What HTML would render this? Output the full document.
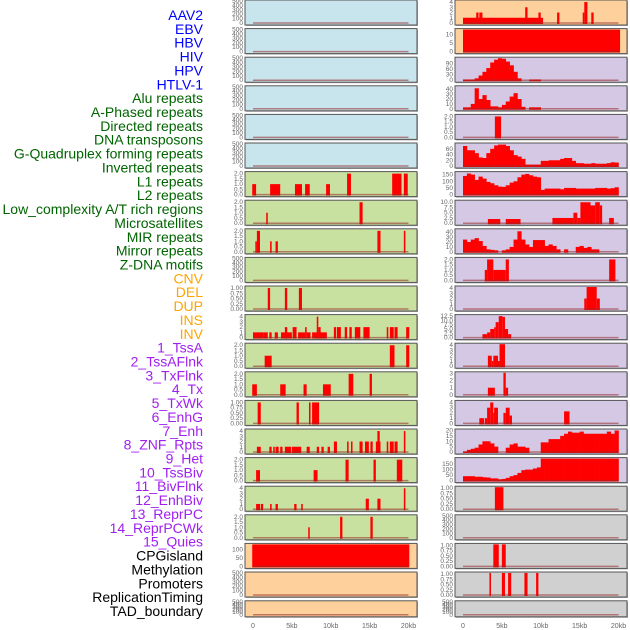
<!DOCTYPE html>
<html><head><meta charset="utf-8">
<style>
html,body{margin:0;padding:0;background:#fff;}
svg{display:block;font-family:"Liberation Sans",sans-serif;}
</style></head>
<body>
<svg id="chart" width="630" height="630" viewBox="0 0 630 630"></svg>
<script>
const labels=["AAV2","EBV","HBV","HIV","HPV","HTLV-1","Alu repeats","A-Phased repeats","Directed repeats","DNA transposons","G-Quadruplex forming repeats","Inverted repeats","L1 repeats","L2 repeats","Low_complexity A/T rich regions","Microsatellites","MIR repeats","Mirror repeats","Z-DNA motifs","CNV","DEL","DUP","INS","INV","1_TssA","2_TssAFlnk","3_TxFlnk","4_Tx","5_TxWk","6_EnhG","7_Enh","8_ZNF_Rpts","9_Het","10_TssBiv","11_BivFlnk","12_EnhBiv","13_ReprPC","14_ReprPCWk","15_Quies","CPGisland","Methylation","Promoters","ReplicationTiming","TAD_boundary"];
const labelColors=["#0000ff","#0000ff","#0000ff","#0000ff","#0000ff","#0000ff","#006400","#006400","#006400","#006400","#006400","#006400","#006400","#006400","#006400","#006400","#006400","#006400","#006400","#ffa500","#ffa500","#ffa500","#ffa500","#ffa500","#a020f0","#a020f0","#a020f0","#a020f0","#a020f0","#a020f0","#a020f0","#a020f0","#a020f0","#a020f0","#a020f0","#a020f0","#a020f0","#a020f0","#a020f0","#000","#000","#000","#000","#000"];
const T500=["0","100","200","300","400","500"],T2=["0.0","0.5","1.0","1.5","2.0"],T1=["0.00","0.25","0.50","0.75","1.00"],T4=["0","1","2","3","4"];
const leftBg=["#c8e4ec","#c8e4ec","#c8e4ec","#c8e4ec","#c8e4ec","#c8e4ec","#c8e0a0","#c8e0a0","#c8e0a0","#c8e0a0","#c8e0a0","#c8e0a0","#c8e0a0","#c8e0a0","#c8e0a0","#c8e0a0","#c8e0a0","#c8e0a0","#c8e0a0","#fdd09c","#fdd09c","#fdd09c"];
const rightBg=["#fdd09c","#fdd09c","#d4c8e4","#d4c8e4","#d4c8e4","#d4c8e4","#d4c8e4","#d4c8e4","#d4c8e4","#d4c8e4","#d4c8e4","#d4c8e4","#d4c8e4","#d4c8e4","#d4c8e4","#d4c8e4","#d4c8e4","#d0d0d0","#d0d0d0","#d0d0d0","#d0d0d0","#d0d0d0"];
const leftTicks=[T500,T500,T500,T500,T500,T500,T2,T2,T2,T500,T1,T4,T2,T2,T1,T4,T2,T4,T2,["0","50","100"],T500,T500];
const leftTickVals=[[0,100,200,300,400,500],[0,100,200,300,400,500],[0,100,200,300,400,500],[0,100,200,300,400,500],[0,100,200,300,400,500],[0,100,200,300,400,500],[0,.5,1,1.5,2],[0,.5,1,1.5,2],[0,.5,1,1.5,2],[0,100,200,300,400,500],[0,.25,.5,.75,1],[0,1,2,3,4],[0,.5,1,1.5,2],[0,.5,1,1.5,2],[0,.25,.5,.75,1],[0,1,2,3,4],[0,.5,1,1.5,2],[0,1,2,3,4],[0,.5,1,1.5,2],[0,50,100],[0,100,200,300,400,500],[0,100,200,300,400,500]];
const leftYmax=[500,500,500,500,500,500,2.1,2.1,2.1,500,1.05,4.2,2.1,2.1,1.05,4.2,2.1,4.2,2.1,130,500,500];
const rightTicks=[T4,["0","5","10"],["0","30","60","90"],["0","10","20","30","40"],T2,["0","20","40","60"],["0","50","100","150"],["0.0","2.5","5.0","7.5","10.0"],["0","10","20","30","40"],T2,T4,["0.0","2.5","5.0","7.5","10.0","12.5"],T4,["0","1","2","3"],T4,["0","5","10","15","20"],["0","50","100","150"],T1,T500,T1,T1,T500];
const rightTickVals=[[0,1,2,3,4],[0,5,10],[0,30,60,90],[0,10,20,30,40],[0,.5,1,1.5,2],[0,20,40,60],[0,50,100,150],[0,2.5,5,7.5,10],[0,10,20,30,40],[0,.5,1,1.5,2],[0,1,2,3,4],[0,2.5,5,7.5,10,12.5],[0,1,2,3,4],[0,1,2,3],[0,1,2,3,4],[0,5,10,15,20],[0,50,100,150],[0,.25,.5,.75,1],[0,100,200,300,400,500],[0,.25,.5,.75,1],[0,.25,.5,.75,1],[0,100,200,300,400,500]];
const rightYmax=[4.2,13,118,45,2.1,77,165,10.5,45,2.1,4.2,12.8,4.2,3.1,4.2,20.5,200,1.05,500,1.05,1.05,500];
// bars: [startKb, endKb, value]
const leftBars=[[],[],[],[],[],[],
[[-0.1,0.4,1],[2.2,3.5,1],[5.4,6.3,1],[6.7,7.3,1],[9.4,9.9,1],[12.1,12.6,2],[17.9,19.1,2],[19.4,19.9,2]],
[[1.7,1.9,1],[13.7,14.1,2]],
[[0.3,0.5,1],[0.5,0.9,2],[2.2,2.4,1],[2.9,3.2,1],[16.0,16.4,2],[19.4,19.6,2]],
[],
[[1.9,2.2,1],[4.1,4.4,1],[5.9,6.3,1]],
[[0,1.4,1],[1.4,1.9,1],[2.1,2.4,1],[2.8,3.2,1],[3.6,5.0,1],[4.1,4.4,2],[5.1,5.6,2],[5.8,6.7,1],[6.7,6.9,2],[6.9,7.4,1],[7.6,9.5,1],[8.2,8.4,4],[8.4,8.7,2],[10.4,10.7,2],[10.8,11.3,2],[11.8,12.1,2],[12.4,12.7,2],[13.1,13.8,2],[14.2,15.0,2],[17.2,17.4,2],[17.6,18.1,2],[18.2,18.6,2],[19.7,20.1,2]],
[[1.5,2.4,1],[17.6,18.2,2],[19.7,20.1,2]],
[[-0.1,0.5,1],[3.5,4.2,1],[6.5,6.9,1],[9.0,10.0,1],[12.3,12.9,2],[15.0,15.3,2]],
[[0.6,1.0,1],[5.6,5.9,1],[7.2,7.4,1],[7.6,8.5,1]],
[[0.5,1.0,1],[2.1,2.4,1],[2.6,2.8,1],[2.9,3.3,1],[3.5,3.8,1],[4.1,4.9,1],[5.0,6.2,1],[6.9,7.3,1],[8.2,8.5,1],[8.8,9.1,1],[9.6,9.9,1],[10.4,10.8,2],[12.1,12.3,2],[12.6,12.8,2],[13.7,14.1,2],[14.4,14.9,2],[15.1,15.4,2],[15.8,16.4,2],[16.0,16.3,4],[17.2,17.4,2],[17.6,18.1,2],[18.2,18.6,2],[19.4,19.6,4]],
[[0.4,0.9,1],[7.8,8.3,1],[11.9,12.3,2],[15.5,15.8,2],[18.5,19.2,2]],
[[0.4,0.9,1],[1.0,1.3,1],[2.2,2.4,1],[2.9,3.2,1],[5.3,5.6,1],[6.2,6.4,1],[14.5,14.9,2],[16.0,16.4,2],[19.4,19.6,4]],
[[7.1,7.3,1],[11.2,11.5,2],[15.1,15.4,2]],
[[-0.1,20.1,130]],
[],[]];
const rightBars=[
[[0,10.3,1],[1.7,2.0,2],[2.1,2.5,2],[8.0,8.3,3],[9.7,10.0,2],[12.1,12.4,2],[15.4,15.6,2],[15.6,16.0,4],[16.5,16.8,2]],
[[0,20.2,13]],
[],[],
[[4.1,4.9,2]],
[],[],
[[3.2,4.8,2],[5.5,7.4,2],[11.5,14.2,2.5],[14.2,14.7,5],[14.7,15.1,2.5],[15.1,16.4,10],[16.4,17.0,8.5],[17.0,17.6,10],[17.6,17.9,8.5],[18.8,19.4,2.5]],
[],
[[2.8,3.1,1],[3.1,3.9,2],[3.9,5.5,1],[5.5,5.9,2],[18.8,19.6,2]],
[[15.6,15.9,2],[15.9,17.2,4.2],[17.2,17.6,2]],
[[2.5,3.1,2],[3.1,3.5,3],[3.5,4.0,5],[4.0,4.2,6],[4.2,4.6,9],[4.6,5.1,12.5],[5.1,5.4,12],[5.4,5.8,5],[5.8,6.2,2]],
[[3.2,3.7,2],[3.7,3.9,1],[3.9,4.5,2],[4.5,4.7,1],[4.7,5.4,4.2]],
[[3.2,4.1,1],[5.2,5.5,3.1],[5.5,5.8,1]],
[[2.1,2.7,1],[2.8,3.1,1],[3.1,3.5,3],[3.5,3.9,4],[3.9,4.0,2],[4.0,4.5,3],[5.2,5.5,2],[5.5,6.0,3],[6.0,6.3,1.5],[13.0,13.7,2.3]],
[],[],
[[4.1,5.2,1.05]],
[],
[[3.9,4.6,1.05],[5.0,5.5,1.05]],
[[3.4,3.6,1.05],[5.0,5.4,1.05],[5.8,6.2,1.05],[7.9,8.3,1.05],[9.4,9.7,1.05]],
[]];
// profiles: values in 0.5kb bins from 0 to 20kb
const profHIV=[4,4,4,10,25,45,65,95,110,118,115,100,80,45,10,0,0,4,4,4,0,0,0,0,0,0,0,0,0,0,0,0,0,0,0,0,0,0,0,0];
const profAlu=[3,3,10,42,20,28,18,5,5,3,8,15,25,32,20,4,0,3,3,3,0,0,0,0,0,0,0,0,0,0,0,0,0,0,0,0,0,0,0,0];
const profG4=[70,55,55,45,30,28,45,60,72,75,75,70,55,38,33,25,5,5,5,5,18,18,20,20,20,25,28,28,18,10,10,8,8,10,8,8,8,10,13,12];
const profL1=[140,158,150,110,135,120,95,85,70,60,58,70,90,100,130,150,155,145,135,130,35,45,45,45,45,40,50,50,50,45,45,45,45,45,50,50,50,45,48,55];
const profMIR=[25,20,25,28,22,12,5,4,3,0,3,5,10,25,42,25,15,10,24,24,24,12,15,12,5,0,5,0,0,10,12,8,10,5,5,0,0,0,0,0];
const profEnh=[0.5,2,3,4,7,10,10,8,5,0,0,4,7,8,5,5,4,0,0,0,9,9,12,12,12,15,17,19,18,18,19,17,17,17,17,17,17,19,17,20];
const profZNF=[40,40,40,35,35,30,28,20,20,12,15,25,40,50,70,95,100,100,110,120,200,200,200,200,200,200,200,200,200,200,200,200,200,200,200,200,200,200,200,200];
const rightProfRows=[2,3,5,6,8,15,16];
const rightProfs=[profHIV,profAlu,profG4,profL1,profMIR,profEnh,profZNF];

const svg=document.getElementById('chart');
const NS='http://www.w3.org/2000/svg';
function mk(tag,attrs,parent){const e=document.createElementNS(NS,tag);for(const k in attrs)e.setAttribute(k,attrs[k]);(parent||svg).appendChild(e);return e;}
const PITCH=28.6;
function rowTop(r){return r===21?600.8:r*PITCH;}
function rowH(r){return r===21?16:25;}
function xScale(kb,side){return (side?463:253)+kb/20*155.5;}
function yScale(v,r,ymax){const b=rowTop(r)+rowH(r)-2;return b-v/ymax*(rowH(r)-3);}

// labels
labels.forEach((t,i)=>{
  const e=mk('text',{x:203,y:15+i*13.86+5,'text-anchor':'end','font-size':'14',fill:labelColors[i]});
  e.textContent=t;
  
  
});

function drawPanel(side,r,bg,ticks,tickVals,ymax,bars,prof){
  const x0=side?455:245, w=172, top=rowTop(r), h=rowH(r);
  const g=mk('g',{});
  
  
  mk('rect',{x:x0+1,y:top+1,width:w,height:h,fill:'#aaa'},g);
  mk('rect',{x:x0,y:top,width:w,height:h,fill:bg,stroke:'#555','stroke-width':1},g);
  ticks.forEach((t,i)=>{
    const y=yScale(tickVals[i],r,ymax);
    const e=mk('text',{x:x0-2,y:y+2,'text-anchor':'end','font-size':'6.5',fill:'#666'},g);
    e.textContent=t;
    
    
  });
  const base=yScale(0,r,ymax);
  if(prof){
    prof.forEach((v,i)=>{
      if(v<=0)return;
      const xa=xScale(i*0.5,side),xb=xScale((i+1)*0.5,side),y=yScale(Math.min(v,ymax),r,ymax);
      const e=mk('rect',{x:xa,y:y,width:xb-xa+0.3,height:base-y+1,fill:'#ff0000'},g);
      
      
    });
  }
  bars.forEach(b=>{
    const xa=xScale(b[0],side),xb=xScale(b[1],side),y=yScale(Math.min(b[2],ymax),r,ymax);
    const e=mk('rect',{x:xa,y:Math.max(y,top+0.5),width:Math.max(xb-xa,1.5),height:base-Math.max(y,top+0.5)+1,fill:'#ff0000'},g);
    
    
  });
  mk('line',{x1:xScale(0,side),x2:xScale(20,side),y1:base,y2:base,stroke:'rgba(150,40,40,0.55)','stroke-width':1.5},g);
}
for(let r=0;r<22;r++){
  drawPanel(0,r,leftBg[r],leftTicks[r],leftTickVals[r],leftYmax[r],leftBars[r],null);
  const pi=rightProfRows.indexOf(r);
  drawPanel(1,r,rightBg[r],rightTicks[r],rightTickVals[r],rightYmax[r],rightBars[r],pi>=0?rightProfs[pi]:null);
}
const xTicks=[0,5,10,15,20],xTickLabels=["0","5kb","10kb","15kb","20kb"];
[0,1].forEach(side=>{
  xTicks.forEach((k,i)=>{
    const e=mk('text',{x:xScale(k,side),y:628,'text-anchor':'middle','font-size':'7',fill:'#666'});
    e.textContent=xTickLabels[i];
    
    
  });
});
</script>
</body></html>
